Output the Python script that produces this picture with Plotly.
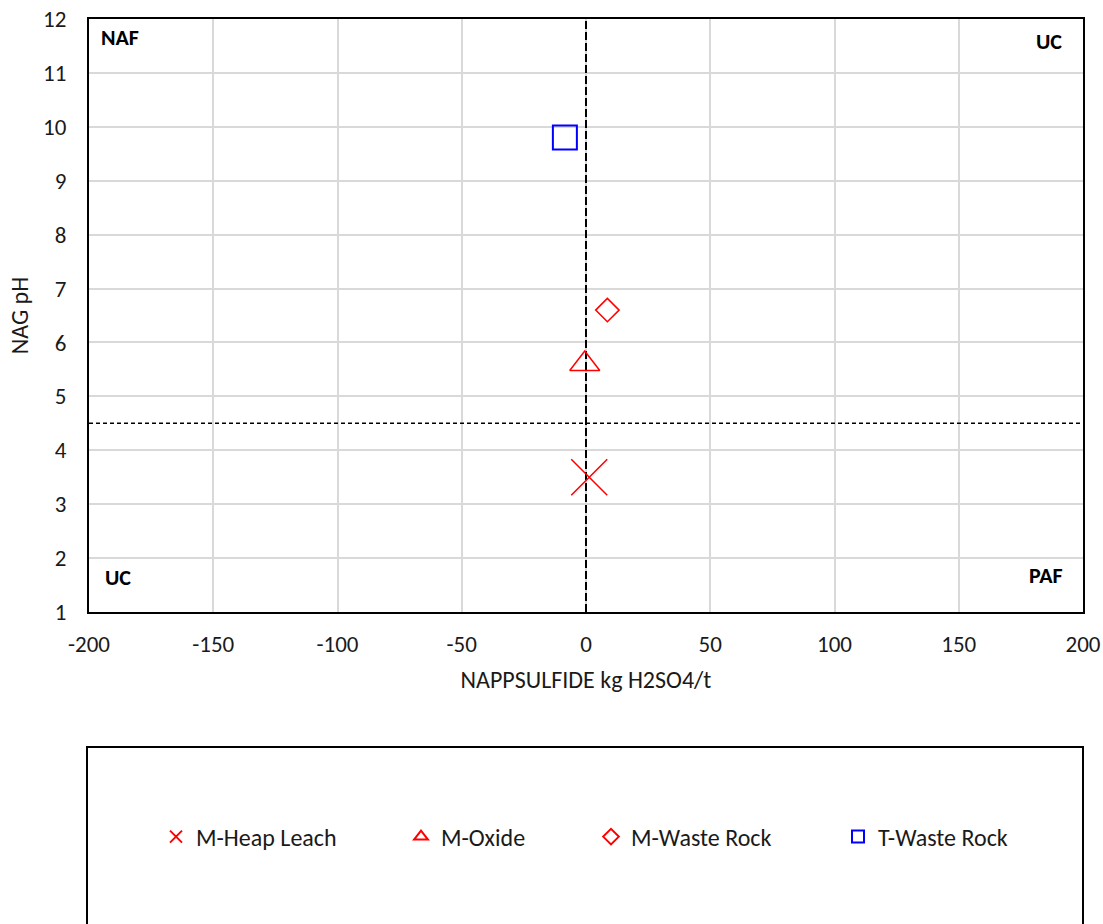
import plotly.graph_objects as go

# ---- data ----
series_names = ["M-Heap Leach", "M-Oxide", "M-Waste Rock", "T-Waste Rock"]
napp_values = [1.3, -0.5, 8.6, -8.5]
nag_ph_values = [3.5, 5.6, 6.6, 9.8]
series_symbols = ["x-thin-open", "triangle-up-open", "diamond-open", "square-open"]
series_colors = ["#ff0000", "#ff0000", "#ff0000", "#0000ff"]
series_sizes = [36, 26, 18, 24]

x_range = [-200, 200]
y_range = [1, 12]
x_ticks = [-200, -150, -100, -50, 0, 50, 100, 150, 200]
x_tick_labels = ["-200", "-150", "-100", "-50", "0", "50", "100", "150", "200"]
y_ticks = list(range(1, 13))
y_tick_labels = [str(v) for v in y_ticks]

napp_threshold = 0
ph_threshold = 4.5

quadrant_labels = ["NAF", "UC", "UC", "PAF"]

FONT = "Calibri, Carlito, 'Open Sans', sans-serif"
TEXT = "#1a1a1a"

fig = go.Figure()

# threshold lines
fig.add_trace(go.Scatter(
    x=[napp_threshold, napp_threshold], y=y_range, mode="lines",
    line=dict(color="black", width=2, dash="8px,3px"),
    showlegend=False, hoverinfo="skip"))
fig.add_trace(go.Scatter(
    x=x_range, y=[ph_threshold, ph_threshold], mode="lines",
    line=dict(color="black", width=1.5, dash="4px,3px"),
    showlegend=False, hoverinfo="skip"))

legend_names = ["legend", "legend2", "legend3", "legend4"]
for i, name in enumerate(series_names):
    fig.add_trace(go.Scatter(
        x=[napp_values[i]], y=[nag_ph_values[i]], mode="markers", name=name,
        marker=dict(symbol=series_symbols[i], size=series_sizes[i],
                    color=series_colors[i],
                    line=dict(color=series_colors[i], width=2 if i == 3 else 1.5)),
        legend=legend_names[i]))

# legend positions (pixel -> paper)
plot_left, plot_right, plot_top, plot_bottom = 89, 1083, 19, 612
pw = plot_right - plot_left
ph = plot_bottom - plot_top
legend_marker_px = [180, 425, 615, 862]


def px_x(p):
    return (p - plot_left) / pw


def px_y(p):
    return (plot_bottom - p) / ph


legend_y = px_y(837)
legend_common = dict(orientation="h", yanchor="middle", xanchor="left",
                     bgcolor="rgba(0,0,0,0)", itemsizing="constant",
                     font=dict(family=FONT, size=24, color=TEXT))
layout_legends = {}
for i, ln in enumerate(legend_names):
    layout_legends[ln] = dict(x=px_x(legend_marker_px[i] - 24), y=legend_y, **legend_common)

annotations = [
    dict(text="<b>NAF</b>", x=px_x(99), y=px_y(37), xanchor="left", yanchor="middle"),
    dict(text="<b>UC</b>", x=px_x(1064), y=px_y(41), xanchor="right", yanchor="middle"),
    dict(text="<b>UC</b>", x=px_x(103), y=px_y(577), xanchor="left", yanchor="middle"),
    dict(text="<b>PAF</b>", x=px_x(1065), y=px_y(575), xanchor="right", yanchor="middle"),
]
for a, lbl in zip(annotations, quadrant_labels):
    a.update(xref="paper", yref="paper", showarrow=False,
             font=dict(family=FONT, size=22, color="black"))

shapes = [
    dict(type="rect", xref="paper", yref="paper",
         x0=px_x(87), x1=px_x(1083), y0=px_y(747), y1=px_y(940),
         line=dict(color="black", width=2), fillcolor="rgba(0,0,0,0)", layer="above"),
]

fig.update_layout(
    width=1103, height=924,
    margin=dict(l=plot_left, r=1103 - plot_right, t=plot_top, b=924 - plot_bottom),
    paper_bgcolor="white", plot_bgcolor="white",
    font=dict(family=FONT, size=23, color=TEXT),
    annotations=annotations, shapes=shapes,
    **layout_legends,
)
fig.update_xaxes(range=x_range, tickvals=x_ticks, ticktext=x_tick_labels,
                 showgrid=True, gridcolor="#d9d9d9", automargin=False,
                 gridwidth=2, zeroline=False, showline=True, linecolor="black",
                 linewidth=2, mirror=True, ticks="", ticklen=0, ticklabelstandoff=10,
                 tickfont=dict(family=FONT, size=23, color=TEXT),
                 title=dict(text="NAPPSULFIDE kg H2SO4/t", standoff=15,
                            font=dict(family=FONT, size=24, color=TEXT)))
fig.update_yaxes(range=y_range, tickvals=y_ticks, ticktext=y_tick_labels,
                 showgrid=True, gridcolor="#d9d9d9", automargin=False,
                 gridwidth=2, zeroline=False, showline=True, linecolor="black",
                 linewidth=2, mirror=True, ticks="", ticklen=0, ticklabelstandoff=16,
                 tickfont=dict(family=FONT, size=23, color=TEXT),
                 title=dict(text="NAG pH", standoff=8,
                            font=dict(family=FONT, size=24, color=TEXT)))

fig.write_html("out.html")
